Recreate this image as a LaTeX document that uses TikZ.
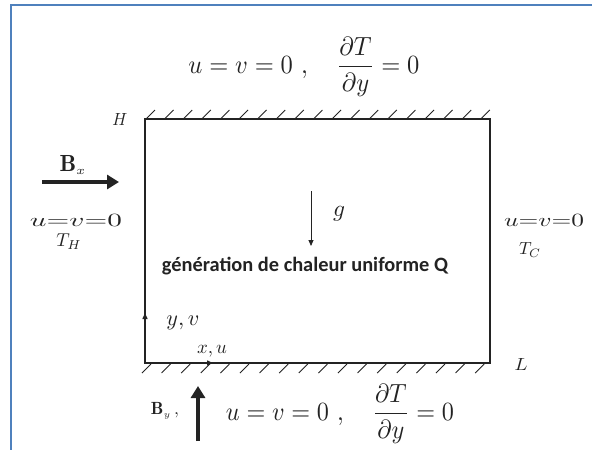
\documentclass[tikz,border=0pt]{standalone}
\usepackage{amsmath}
\usepackage{graphicx}
\usepackage{fontspec}
\newfontfamily\calib{Carlito}
\usetikzlibrary{arrows.meta}
\definecolor{frameblue}{RGB}{79,129,189}
\definecolor{ink}{RGB}{35,35,35}
\newcommand{\fitw}[2]{\resizebox{#1}{!}{#2}}
\newcommand{\fitwh}[3]{\resizebox{#1}{#2}{#3}}
\tikzset{
  wall/.style={line width=2.6pt, ink},
  hatch/.style={line width=0.9pt, ink},
  bigarrow/.style={line width=3.3pt, ink, -{Triangle[length=12pt,width=14pt]}},
  thinarrow/.style={line width=0.8pt, ink, -{Triangle[length=6pt,width=5pt]}},
  axisarrow/.style={line width=1.4pt, ink, -{Triangle[length=6pt,width=5pt]}},
  lab/.style={inner sep=0pt, text=ink},
}
\begin{document}
\begin{tikzpicture}[x=1pt,y=-1pt]
\useasboundingbox (0,0) rectangle (592,450);
\fill[white] (0,0) rectangle (592,450);
% frame
\draw[frameblue, line width=2pt] (10.5,450) -- (10.5,4.5) -- (592,4.5);
% box
\coordinate (BL) at (145,363);
\coordinate (TR) at (490,119);
\draw[wall] (BL) rectangle (TR);
% hatching top
\foreach \i in {0,...,18} {
  \draw[hatch] (146+\i*18.6,119) -- ++(9,-9);
}
% hatching bottom
\foreach \i in {0,...,17} {
  \draw[hatch] (142+\i*19.6,373) -- ++(9,-9);
}
% top condition
\node[lab] (topbc) at (304,67) {\fitwh{231pt}{36pt}{$u = v = 0\ ,\quad \dfrac{\partial T}{\partial y} = 0$}};
\node[lab] (H) at (120,119) {\fitwh{15pt}{12pt}{$H$}};
\node[lab] (L) at (521,364) {\fitwh{13pt}{12pt}{$L$}};
% Bx
\node[lab] (Bx) at (73,165) {\fitw{27pt}{$\mathbf{B}_{\scriptscriptstyle x}$}};
\coordinate (bxs) at (42,182);
\coordinate (bxe) at (119,182);
\draw[bigarrow] (bxs) -- (bxe);
% left BC
\node[lab] (leftbc) at (76,220) {\fitwh{92pt}{12pt}{$u{=}v{=}0$}};
\node[lab] (TH) at (69,242) {\fitw{25pt}{$T_H$}};
% right BC
\node[lab] (rightbc) at (544,220) {\fitwh{80pt}{12pt}{$u{=}v{=}0$}};
\node[lab] (TC) at (530,250) {\fitw{22pt}{$T_C$}};
% gravity
\coordinate (gs) at (311,191);
\coordinate (ge) at (311,246);
\draw[thinarrow] (gs) -- (ge);
\node[lab] (g) at (339,214) {\fitw{12pt}{$g$}};
% heat generation
\node[lab] (Q) at (305,266) {\fitw{286pt}{\calib\bfseries génération de chaleur uniforme Q}};
% axes
\coordinate (O) at (145,363);
\coordinate (ye) at (145,313);
\draw[axisarrow] (O) -- (ye);
\node[lab] (yv) at (183,323) {\fitw{33pt}{$y,v$}};
\coordinate (xe) at (213,363);
\draw[axisarrow] (O) -- (xe);
\node[lab] (xu) at (212,351) {\fitw{30pt}{$x,u$}};
% By
\node[lab] (By) at (165,411) {\fitw{28pt}{$\mathbf{B}_{\scriptscriptstyle y}\,,$}};
\coordinate (bys) at (198,441);
\coordinate (bye) at (198,386);
\draw[bigarrow] (bys) -- (bye);
% bottom condition
\node[lab] (botbc) at (340,414) {\fitwh{228pt}{36pt}{$u = v = 0\ ,\quad \dfrac{\partial T}{\partial y} = 0$}};
\end{tikzpicture}
\end{document}
